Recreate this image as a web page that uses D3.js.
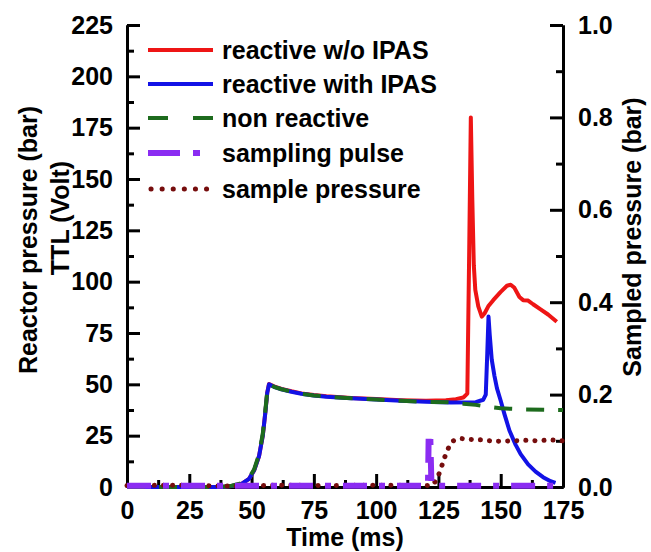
<!DOCTYPE html>
<html>
<head>
<meta charset="utf-8">
<script src="https://cdn.jsdelivr.net/npm/d3@7"></script>
<style>
body { margin: 0; background: #fff; }
svg { display: block; }
text { font-family: "Liberation Sans", Arial, sans-serif; font-weight: bold; fill: #000; }
</style>
</head>
<body>
<div id="chart"></div>
<script>
// values (time in ms)
var tRed = [0, 38, 42, 46, 49, 51, 53, 54.5, 55.5, 56.3, 57, 59, 62, 66, 70, 75, 80, 90, 100, 110, 120, 128, 132, 135, 136.6, 137.3, 138, 138.6, 139.2, 139.8, 141, 142.4, 143.5, 145, 147, 150, 152.5, 154, 155.5, 157.5, 159, 161, 163, 166, 169, 172.5];
var pRed = [0, 0, 0.5, 1.5, 4, 8, 15, 25, 36, 46, 50.2, 49, 47.8, 46.6, 45.6, 44.8, 44.2, 43.4, 42.8, 42.3, 42, 42.3, 42.8, 43.6, 45.5, 110, 180, 140, 108, 96, 88, 83, 84.5, 88, 91, 95, 98, 98.5, 97, 92.5, 91, 90.8, 89, 86.5, 84, 80.5];

var tBlue = [0, 38, 42, 46, 49, 51, 53, 54.5, 55.5, 56.3, 57, 59, 62, 66, 70, 75, 80, 90, 100, 110, 120, 130, 140, 143, 144, 144.6, 145.1, 145.6, 146.4, 147.5, 148.5, 150, 151.5, 153.5, 156, 158, 161, 164, 167, 170, 172];
var pBlue = [0, 0, 0.5, 1.5, 4, 8, 15, 25, 36, 46, 50, 48.8, 47.6, 46.4, 45.4, 44.6, 44, 43.2, 42.6, 42, 41.5, 41.2, 41.3, 42.5, 45, 65, 83, 74, 62, 54, 48, 42, 35.5, 27.5, 20.5, 16, 11, 7.5, 4.8, 2.8, 2];

var tGreen = [0, 38, 42, 46, 49, 51, 53, 54.5, 55.5, 56.3, 57, 59, 62, 66, 70, 75, 80, 90, 100, 110, 120, 130, 135, 140, 145, 150, 160, 175];
var pGreen = [0, 0, 0.6, 1.8, 4.5, 8.5, 16, 26, 37, 46.5, 50, 48.8, 47.6, 46.4, 45.4, 44.6, 44, 43.2, 42.6, 42, 41.5, 41.2, 40.6, 40, 39, 38.3, 37.8, 37.5];

var tPulse = [0, 120.8, 121.1, 121.7, 122.2, 122.5, 172];
var vPulse = [0.6, 0.6, 26, 26, 1, 0.6, 0.6];

var tSample = [0, 20, 40, 60, 80, 100, 122, 123.5, 125, 126.5, 128, 129.5, 131, 134, 138, 142, 146, 150, 155, 160, 165, 170, 175];
var vSample = [0.003, 0.004, 0.002, 0.004, 0.003, 0.004, 0.003, 0.01, 0.025, 0.048, 0.072, 0.09, 0.1, 0.105, 0.103, 0.102, 0.1, 0.099, 0.1, 0.101, 0.1, 0.102, 0.1];

var legendLabels = ["reactive w/o IPAS", "reactive with IPAS", "non reactive", "sampling pulse", "sample pressure"];

var svg = d3.select("#chart").append("svg")
	.attr("width", 651)
	.attr("height", 552);

var x = d3.scaleLinear().domain([0, 175]).range([127, 563]);
var yL = d3.scaleLinear().domain([0, 225]).range([487, 25]);
var yR = d3.scaleLinear().domain([0, 1]).range([487, 25]);

// axes, ticks pointing inside
function styleAxis(g) {
	g.select(".domain").attr("stroke-width", 3);
	g.selectAll(".tick line").attr("stroke-width", 3);
	g.selectAll("text").style("font-size", "25px").attr("font-family", null).attr("fill", "#000");
}

svg.append("g").attr("transform", "translate(0,487)")
	.call(d3.axisBottom(x).tickValues(d3.range(12.5, 175, 25)).tickFormat("").tickSizeInner(-7).tickSizeOuter(0))
	.call(styleAxis);
svg.append("g").attr("transform", "translate(0,487)")
	.call(d3.axisBottom(x).tickValues(d3.range(0, 176, 25)).tickSizeInner(-13).tickSizeOuter(0).tickPadding(14))
	.call(styleAxis);

svg.append("g").attr("transform", "translate(127,0)")
	.call(d3.axisLeft(yL).tickValues(d3.range(12.5, 225, 25)).tickFormat("").tickSizeInner(-7).tickSizeOuter(0))
	.call(styleAxis);
svg.append("g").attr("transform", "translate(127,0)")
	.call(d3.axisLeft(yL).tickValues(d3.range(0, 226, 25)).tickSizeInner(-13).tickSizeOuter(0).tickPadding(14))
	.call(styleAxis);

svg.append("g").attr("transform", "translate(563,0)")
	.call(d3.axisRight(yR).tickValues(d3.range(0.1, 1, 0.2)).tickFormat("").tickSizeInner(-7).tickSizeOuter(0))
	.call(styleAxis);
svg.append("g").attr("transform", "translate(563,0)")
	.call(d3.axisRight(yR).tickValues([0, 0.2, 0.4, 0.6, 0.8, 1.0]).tickFormat(d3.format(".1f")).tickSizeInner(-13).tickSizeOuter(0).tickPadding(15))
	.call(styleAxis);

// axis titles
svg.append("text").attr("x", 345).attr("y", 546).attr("text-anchor", "middle")
	.style("font-size", "25px").text("Time (ms)");
svg.append("text").attr("transform", "translate(37,240) rotate(-90)").attr("text-anchor", "middle")
	.style("font-size", "25px").text("Reactor pressure (bar)");
svg.append("text").attr("transform", "translate(69,218) rotate(-90)").attr("text-anchor", "middle")
	.style("font-size", "25px").text("TTL (Volt)");
svg.append("text").attr("transform", "translate(641,237) rotate(-90)").attr("text-anchor", "middle")
	.style("font-size", "25px").text("Sampled pressure (bar)");

// series
var series = [
	{ t: tRed, v: pRed, y: yL, color: "#ee1515", width: 4, dash: null },
	{ t: tBlue, v: pBlue, y: yL, color: "#1212e6", width: 4, dash: null },
	{ t: tGreen, v: pGreen, y: yL, color: "#1d6b1d", width: 4, dash: "18 14" },
	{ t: tSample, v: vSample, y: yR, color: "#760d0d", width: 5, dash: "0.1 9" },
	{ t: tPulse, v: vPulse, y: yL, color: "#8b2cf2", width: 6, dash: "24 12 6 12" }
];

series.forEach(function(s) {
	var pts = s.t.map(function(t, i) { return [t, s.v[i]]; });
	var line = d3.line()
		.x(function(d) { return x(d[0]); })
		.y(function(d) { return s.y(d[1]); });
	svg.append("path")
		.datum(pts)
		.attr("d", line)
		.attr("fill", "none")
		.attr("stroke", s.color)
		.attr("stroke-width", s.width)
		.attr("stroke-linejoin", "round")
		.attr("stroke-linecap", s.dash == "0.1 9" ? "round" : "butt")
		.attr("stroke-dasharray", s.dash);
});

// legend
var legendOrder = [0, 1, 2, 4, 3];
var legendY = [50, 84, 118, 153, 189];
legendLabels.forEach(function(lab, i) {
	var s = series[legendOrder[i]];
	var ly = legendY[i];
	svg.append("line")
		.attr("x1", s.dash == "0.1 9" ? 151 : 148).attr("x2", 213)
		.attr("y1", ly).attr("y2", ly)
		.attr("stroke", s.color)
		.attr("stroke-width", s.width)
		.attr("stroke-linecap", s.dash == "0.1 9" ? "round" : "butt")
		.attr("stroke-dasharray", s.dash == "0.1 9" ? "0.1 11" : (s.dash == "18 14" ? "20 25" : (s.dash ? "32 13 7 13" : null)));
	svg.append("text")
		.attr("x", 222).attr("y", ly + 9)
		.style("font-size", "25px")
		.text(lab);
});
</script>
</body>
</html>
